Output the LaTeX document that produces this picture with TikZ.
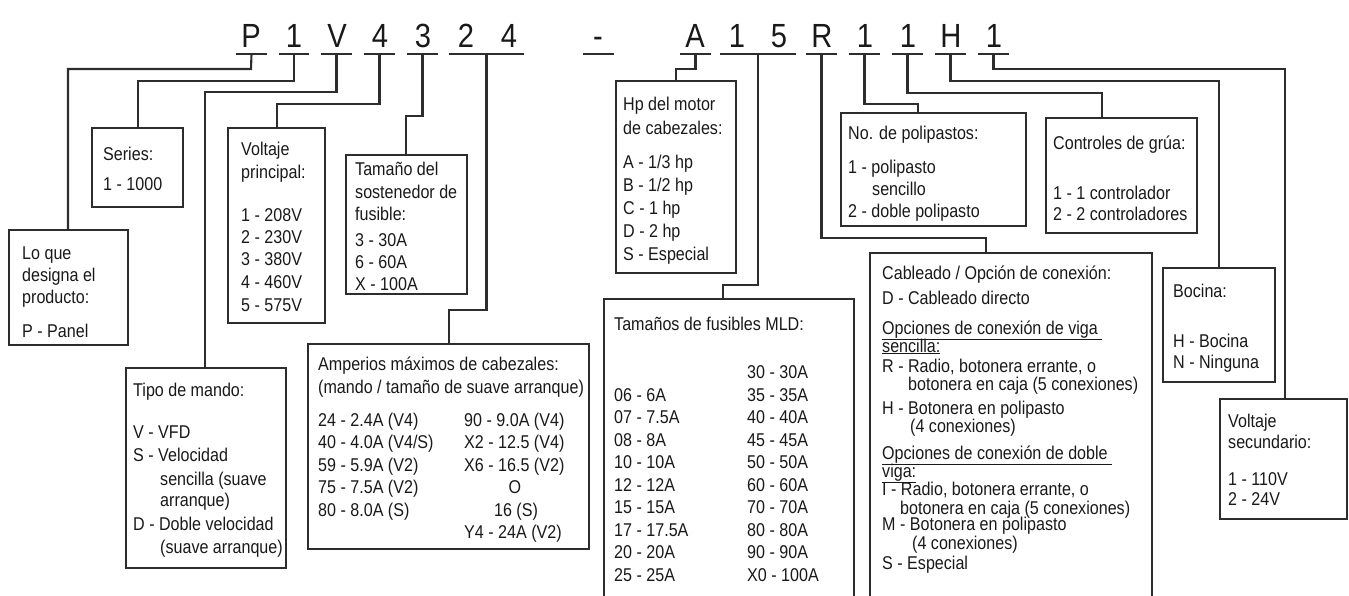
\documentclass[tikz,border=0pt]{standalone}
\usepackage{fontspec}
\setmainfont{Liberation Sans}[FakeStretch=0.87]
\definecolor{ln}{RGB}{45,45,45}
\definecolor{tx}{RGB}{25,25,25}
\newcommand\tlines[2]{\foreach \x/\y/\t [count=\i] in {#2} \node[txt] (#1-\i) at (\x,\y) {\t};}
\begin{document}
\begin{tikzpicture}[x=1pt,y=-1pt,
  box/.style={draw=ln, line width=2.1pt, outer sep=0pt, inner sep=0pt, anchor=north west},
  wire/.style={draw=ln, line width=2.1pt, line join=miter},
  txt/.style={anchor=base west, inner sep=0pt, text=tx, font=\fontsize{18.5}{22}\selectfont},
  code/.style={anchor=base, inner sep=0pt, text=tx, font=\fontsize{33.5}{40}\selectfont}]
\useasboundingbox (0,0) rectangle (1349,595);

% code letters
\foreach \n/\x/\c in {p/251/P, s/294/1, v/337/V, f/380/4, h/423/3, a/466/2, b/509/4, d/598/-, m/695/A, t/737/1, u/779/5, r/822/R, n/865/1, c/908/1, o/951/H, w/994/1}
  \node[code] (c-\n) at (\x,47) {\c};

% underlines
\foreach \n/\a/\b in {P/236/267, S/279/309, V/321/352, F/364/395, H/407/438, A/449/524, D/583/614, M/680/711, U/720/796, R/806/837, N/849/880, C/892/923, O/935/966, W/978/1009}
  {\draw[wire] (\a,54) -- (\b,54);
   \coordinate (u\n) at ({(\a+\b)/2},54);}

% boxes
\node[box, minimum width=119pt, minimum height=115pt] (lq) at (9,230) {};
\node[box, minimum width=91pt, minimum height=79pt] (se) at (92,128) {};
\node[box, minimum width=97pt, minimum height=195pt] (vp) at (228,128) {};
\node[box, minimum width=121pt, minimum height=139pt] (ts) at (346,155) {};
\node[box, minimum width=160pt, minimum height=200pt] (tm) at (126,368) {};
\node[box, minimum width=281pt, minimum height=205pt] (am) at (308,344) {};
\node[box, minimum width=120pt, minimum height=192pt] (hp) at (616,81) {};
\node[box, minimum width=250pt, minimum height=320pt] (tf) at (604,299) {};
\node[box, minimum width=185pt, minimum height=113pt] (np) at (841,113) {};
\node[box, minimum width=151pt, minimum height=115pt] (cg) at (1046,118) {};
\node[box, minimum width=282pt, minimum height=370pt] (co) at (870,253) {};
\node[box, minimum width=112pt, minimum height=114pt] (bo) at (1163,268) {};
\node[box, minimum width=127pt, minimum height=120pt] (vs) at (1220,399) {};

% connectors
\draw[wire] (uP) -- (251,69) -| ([xshift=59pt]lq.north west);
\draw[wire] (uS) -- (294,81) -| ([xshift=46pt]se.north west);
\draw[wire] (uV) -- (336.5,92) -| ([xshift=79pt]tm.north west);
\draw[wire] (uF) -- (379.5,104) -| ([xshift=49pt]vp.north west);
\draw[wire] (uH) -- (422.5,116) -| ([xshift=60pt]ts.north west);
\draw[wire] (uA) -- (486.5,310) -| ([xshift=141pt]am.north west);
\draw[wire] (uM) -- (695.5,69) -| ([xshift=60pt]hp.north west);
\draw[wire] (uU) -- (758,285) -| ([xshift=119pt]tf.north west);
\draw[wire] (uR) -- (821.5,238) -| ([xshift=116pt]co.north west);
\draw[wire] (uN) -- (864.5,104) -| ([xshift=77pt]np.north west);
\draw[wire] (uC) -- (907.5,93) -| ([xshift=56pt]cg.north west);
\draw[wire] (uO) -- (950.5,81) -| ([xshift=56pt]bo.north west);
\draw[wire] (uW) -- (993.5,69) -| ([xshift=65pt]vs.north west);

% texts
\tlines{lqt}{22/259/{Lo que}, 22/281/{designa el}, 22/303/{producto:}, 22/337/{P - Panel}}
\tlines{set}{103/160/{Series:}, 103/190/{1 - 1000}}
\tlines{vpt}{241/155/{Voltaje}, 241/178/{principal:}, 241/221/{1 - 208V}, 241/243/{2 - 230V}, 241/265/{3 - 380V}, 241/288/{4 - 460V}, 241/311/{5 - 575V}}
\tlines{tst}{355/175/{Tamaño del}, 355/198/{sostenedor de}, 355/220/{fusible:}, 355/246/{3 - 30A}, 355/268/{6 - 60A}, 355/290/{X - 100A}}
\tlines{tmt}{133/396/{Tipo de mando:}, 133/438/{V - VFD}, 133/461/{S - Velocidad}, 160/485/{sencilla (suave}, 160/506/{arranque)}, 133/530/{D - Doble velocidad}, 160/553/{(suave arranque)}}
\tlines{amt}{318/370/{Amperios máximos de cabezales:}, 318/393/{(mando / tamaño de suave arranque)}, 318/426/{24 - 2.4A (V4)}, 318/448/{40 - 4.0A (V4/S)}, 318/471/{59 - 5.9A (V2)}, 318/493/{75 - 7.5A (V2)}, 318/516/{80 - 8.0A (S)}, 464/426/{90 - 9.0A (V4)}, 464/448/{X2 - 12.5 (V4)}, 464/471/{X6 - 16.5 (V2)}, 464/538/{Y4 - 24A (V2)}}
\node[txt, anchor=base] (amt-o) at (515,493) {O};
\node[txt, anchor=base] (amt-s) at (516,516) {16 (S)};
\tlines{hpt}{623/110/{Hp del motor}, 623/134/{de cabezales:}, 623/168/{A - 1/3 hp}, 623/191/{B - 1/2 hp}, 623/214/{C - 1 hp}, 623/237/{D - 2 hp}, 623/260/{S - Especial}}
\tlines{tft}{614/330/{Tamaños de fusibles MLD:}, 747/378.5/{30 - 30A}, 747/401/{35 - 35A}, 747/423.5/{40 - 40A}, 747/446/{45 - 45A}, 747/468.5/{50 - 50A}, 747/491/{60 - 60A}, 747/513.5/{70 - 70A}, 747/536/{80 - 80A}, 747/558.5/{90 - 90A}, 747/581/{X0 - 100A}, 614/401/{06 - 6A}, 614/423.5/{07 - 7.5A}, 614/446/{08 - 8A}, 614/468.5/{10 - 10A}, 614/491/{12 - 12A}, 614/513.5/{15 - 15A}, 614/536/{17 - 17.5A}, 614/558.5/{20 - 20A}, 614/581/{25 - 25A}}
\tlines{npt}{848/139/{No. de polipastos:}, 848/173/{1 - polipasto}, 872/195/{sencillo}, 848/217/{2 - doble polipasto}}
\tlines{cgt}{1053/149/{Controles de grúa:}, 1053/199/{1 - 1 controlador}, 1053/220/{2 - 2 controladores}}
\tlines{cot}{882/279/{Cableado / Opción de conexión:}, 882/304/{D - Cableado directo}, 882/334/{\underline{Opciones de conexión de viga\ }}, 882/352/{\underline{sencilla:}}, 882/372/{R - Radio, botonera errante, o}, 908/390/{botonera en caja (5 conexiones)}, 882/414/{H - Botonera en polipasto}, 910/432/{(4 conexiones)}, 882/459/{\underline{Opciones de conexión de doble\ }}, 882/477/{\underline{viga:}}, 882/495/{I - Radio, botonera errante, o}, 900/514/{botonera en caja (5 conexiones)}, 882/530/{M - Botonera en polipasto}, 912/549/{(4 conexiones)}, 882/569/{S - Especial}}
\tlines{bot}{1173/297/{Bocina:}, 1173/347/{H - Bocina}, 1173/368/{N - Ninguna}}
\tlines{vst}{1228/427/{Voltaje}, 1228/448/{secundario:}, 1228/485/{1 - 110V}, 1228/505/{2 - 24V}}
\end{tikzpicture}
\end{document}
